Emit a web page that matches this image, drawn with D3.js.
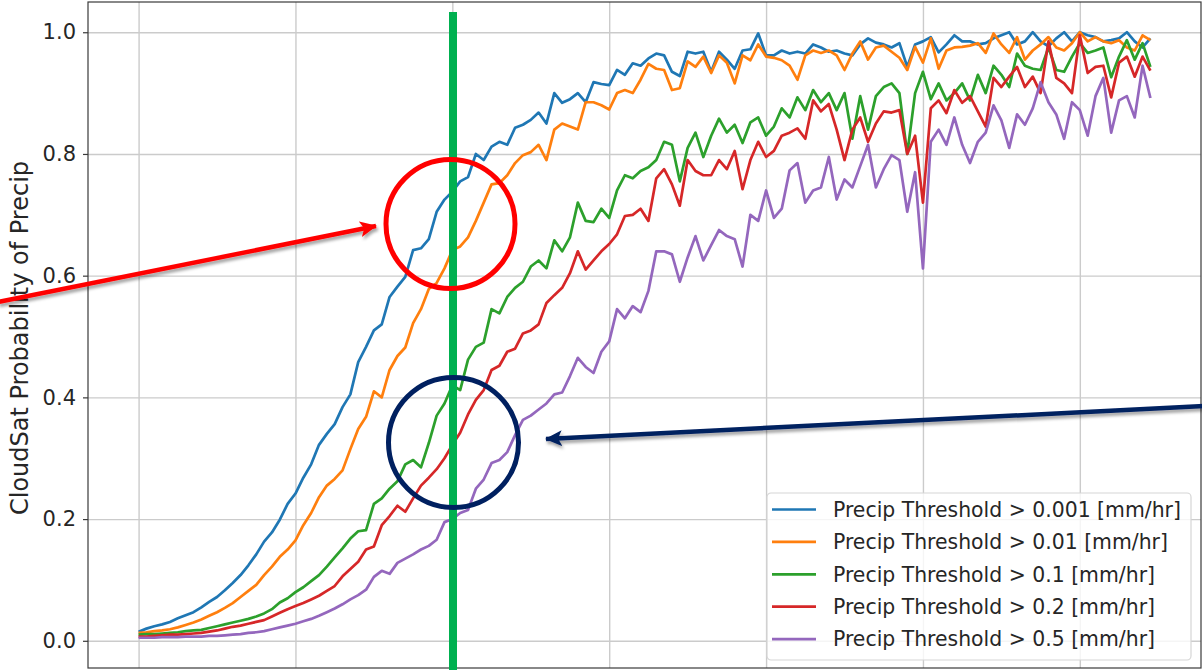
<!DOCTYPE html>
<html>
<head>
<meta charset="utf-8">
<script src="https://cdn.jsdelivr.net/npm/d3@7"></script>
<style>
  body { margin: 0; background: #fff; }
  svg { display: block; font-family: "DejaVu Sans", sans-serif; }
</style>
</head>
<body>
<svg id="chart" width="1202" height="670"></svg>
<script>
// x bins (the tick labels are cropped off in the source picture)
const bins = [
  0,1,2,3,4,5,6,7,8,9,10,11,12,13,14,15,16,17,18,19,
  20,21,22,23,24,25,26,27,28,29,30,31,32,33,34,35,36,37,38,39,
  40,41,42,43,44,45,46,47,48,49,50,51,52,53,54,55,56,57,58,59,
  60,61,62,63,64,65,66,67,68,69,70,71,72,73,74,75,76,77,78,79,
  80,81,82,83,84,85,86,87,88,89,90,91,92,93,94,95,96,97,98,99,
  100,101,102,103,104,105,106,107,108,109,110,111,112,113,114,115,116,117,118,119,
  120,121,122,123,124,125,126,127,128,129
];
const xGridTicks = [0, 20, 40, 60, 80, 100, 120];
const yTicks = [0.0, 0.2, 0.4, 0.6, 0.8, 1.0];
const yLabel = 'CloudSat Probability of Precip';

const seriesNames = [
  'Precip Threshold > 0.001 [mm/hr]',
  'Precip Threshold > 0.01 [mm/hr]',
  'Precip Threshold > 0.1 [mm/hr]',
  'Precip Threshold > 0.2 [mm/hr]',
  'Precip Threshold > 0.5 [mm/hr]'
];
const seriesColors = ['#1f77b4', '#ff7f0e', '#2ca02c', '#d62728', '#9467bd'];

// probability of precip, one value per bin
const thr0001 = [
  .015,.02,.024,.027,.031,.037,.042,.047,.055,.064,.072,.083,.095,.108,.124,.142,.163,.178,.199,.225,
  .242,.268,.29,.322,.34,.356,.384,.405,.458,.483,.51,.52,.565,.582,.598,.642,.645,.66,.705,.725,
  .738,.755,.762,.8,.79,.812,.82,.815,.843,.848,.856,.868,.85,.9,.884,.89,.9,.885,.918,.915,
  .913,.938,.93,.949,.945,.957,.965,.962,.935,.928,.968,.965,.968,.935,.968,.955,.94,.97,.972,.998,
  .962,.962,.97,.965,.968,.965,.98,.975,.968,.97,.965,.962,.98,.99,.983,.98,.975,.982,.943,.98,
  .985,.992,.967,.98,.995,.985,.985,.98,.982,.99,.995,1.0,.98,.985,1.0,.985,.977,.99,1.0,.985,
  1.0,.995,.992,.985,.987,.99,1.0,.985,.975,.99
];
const thr001 = [
  .013,.014,.016,.017,.019,.022,.026,.03,.035,.041,.047,.054,.062,.072,.082,.092,.108,.122,.138,.15,
  .165,.19,.21,.236,.255,.266,.28,.315,.348,.368,.41,.4,.445,.468,.482,.522,.545,.578,.588,.612,
  .642,.648,.663,.69,.72,.75,.752,.765,.785,.798,.803,.815,.79,.84,.85,.845,.84,.885,.885,.88,
  .873,.9,.905,.9,.922,.948,.94,.938,.905,.908,.952,.943,.96,.933,.962,.95,.916,.962,.954,.98,
  .96,.958,.954,.945,.922,.962,.97,.966,.97,.962,.938,.965,.985,.955,.975,.978,.968,.958,.938,.976,
  .95,.99,.94,.97,.975,.976,.978,.982,.966,.998,.98,.966,.992,.955,.97,.98,.992,.975,.97,.982,
  1.0,.985,.992,.985,.982,.987,.975,.97,.995,.987
];
const thr01 = [
  .01,.011,.011,.012,.013,.014,.016,.017,.018,.021,.024,.027,.03,.033,.036,.04,.045,.052,.063,.07,
  .08,.088,.098,.108,.122,.137,.152,.168,.18,.182,.225,.234,.25,.262,.29,.297,.285,.325,.37,.39,
  .42,.412,.462,.483,.49,.545,.538,.565,.58,.59,.615,.625,.612,.658,.64,.663,.72,.69,.688,.71,
  .695,.74,.765,.76,.772,.778,.79,.82,.815,.755,.81,.835,.795,.83,.858,.835,.848,.818,.852,.86,
  .83,.845,.875,.86,.893,.872,.905,.885,.9,.872,.9,.825,.895,.84,.895,.91,.916,.9,.8,.9,
  .935,.89,.916,.888,.9,.916,.888,.93,.9,.945,.93,.91,.965,.945,.94,.938,.975,.938,.935,.96,
  .982,.966,.97,.975,.926,.96,.987,.955,.982,.943
];
const thr02 = [
  .007,.007,.008,.009,.01,.01,.011,.012,.013,.015,.017,.02,.023,.025,.028,.031,.034,.04,.046,.052,
  .057,.062,.068,.074,.082,.09,.106,.118,.13,.15,.155,.19,.205,.222,.212,.234,.255,.268,.282,.3,
  .322,.342,.372,.396,.412,.445,.452,.475,.48,.505,.51,.52,.555,.568,.58,.604,.64,.61,.625,.64,
  .652,.668,.698,.7,.71,.69,.76,.775,.75,.715,.79,.772,.765,.765,.79,.775,.805,.742,.79,.82,
  .795,.805,.83,.835,.842,.825,.888,.87,.882,.84,.79,.84,.86,.82,.85,.87,.868,.872,.8,.83,
  .72,.875,.888,.867,.905,.884,.895,.87,.845,.925,.91,.927,.943,.91,.927,.9,.985,.925,.916,.9,
  .995,.933,.943,.945,.893,.95,.96,.927,.96,.937
];
const thr05 = [
  .005,.005,.005,.006,.006,.006,.007,.007,.007,.008,.008,.009,.01,.011,.013,.014,.016,.019,.022,.025,
  .028,.032,.036,.041,.047,.053,.06,.068,.075,.084,.105,.115,.11,.128,.135,.142,.15,.156,.166,.195,
  .2,.21,.215,.25,.265,.292,.297,.31,.338,.363,.37,.38,.39,.405,.408,.435,.465,.45,.44,.475,
  .492,.545,.53,.55,.54,.575,.64,.64,.635,.59,.63,.665,.625,.65,.675,.665,.66,.615,.7,.69,
  .74,.695,.71,.773,.785,.72,.74,.745,.795,.725,.758,.745,.78,.815,.745,.775,.798,.79,.705,.77,
  .612,.82,.84,.815,.86,.815,.785,.82,.835,.88,.855,.81,.865,.848,.875,.918,.885,.865,.825,.885,
  .872,.83,.895,.925,.835,.888,.895,.86,.945,.892
];
const seriesValues = [thr0001, thr001, thr01, thr02, thr05];

// annotation shapes drawn on top of the chart
const markerLineX = 453;

const svg = d3.select('#chart');
const plot = { left: 88, right: 1201, top: 2, bottom: 668 };

const x = d3.scaleLinear().domain([-6.45, 135.45]).range([plot.left, plot.right]);
const y = d3.scaleLinear().domain([-0.0447, 1.0497]).range([plot.bottom, plot.top]);

svg.append('defs').append('clipPath').attr('id', 'clip')
  .append('rect')
  .attr('x', plot.left).attr('y', plot.top)
  .attr('width', plot.right - plot.left).attr('height', plot.bottom - plot.top);

// grid lines
const grid = svg.append('g');
grid.append('g')
  .attr('transform', `translate(0,${plot.bottom})`)
  .call(d3.axisBottom(x).tickValues(xGridTicks).tickSize(-(plot.bottom - plot.top)).tickFormat(''))
  .call(g => g.select('.domain').remove());
grid.append('g')
  .attr('transform', `translate(${plot.left},0)`)
  .call(d3.axisLeft(y).tickValues(yTicks).tickSize(-(plot.right - plot.left)).tickFormat(''))
  .call(g => g.select('.domain').remove());
grid.selectAll('line').attr('stroke', '#cbcbcb').attr('stroke-width', 1.4);

// data lines
const line = d3.line()
  .x((d, i) => x(bins[i]))
  .y(d => y(d));

svg.append('g').attr('clip-path', 'url(#clip)')
  .selectAll('path')
  .data(seriesValues)
  .join('path')
  .attr('d', line)
  .attr('fill', 'none')
  .attr('stroke', (d, i) => seriesColors[i])
  .attr('stroke-width', 2.7)
  .attr('stroke-linejoin', 'round');

// frame
svg.append('rect')
  .attr('x', plot.left).attr('y', plot.top)
  .attr('width', plot.right - plot.left).attr('height', plot.bottom - plot.top)
  .attr('fill', 'none').attr('stroke', '#3a3a3a').attr('stroke-width', 1.2);

// y axis ticks + labels
const yAxis = svg.append('g')
  .attr('transform', `translate(${plot.left},0)`)
  .call(d3.axisLeft(y).tickValues(yTicks).tickFormat(d3.format('.1f')).tickSize(5).tickPadding(7));
yAxis.select('.domain').remove();
yAxis.selectAll('line').attr('stroke', '#3a3a3a').attr('stroke-width', 1.2);
yAxis.selectAll('text')
  .attr('font-family', '"DejaVu Sans", sans-serif')
  .attr('font-size', 21)
  .attr('fill', '#262626');

svg.append('text')
  .attr('transform', 'translate(28,338) rotate(-90)')
  .attr('text-anchor', 'middle')
  .attr('font-size', 24)
  .attr('fill', '#262626')
  .text(yLabel);

// legend
const legend = svg.append('g').attr('transform', 'translate(767,493)');
legend.append('rect')
  .attr('width', 424).attr('height', 167).attr('rx', 4)
  .attr('fill', '#fff').attr('fill-opacity', 0.8)
  .attr('stroke', '#d6d6d6').attr('stroke-width', 1.2);
const rows = legend.selectAll('.row')
  .data(seriesNames)
  .join('g')
  .attr('class', 'row')
  .attr('transform', (d, i) => `translate(0,${16.5 + i * 32.4})`);
rows.append('line')
  .attr('x1', 5).attr('x2', 49)
  .attr('stroke', (d, i) => seriesColors[i])
  .attr('stroke-width', 2.7);
rows.append('text')
  .attr('x', 66).attr('y', 7.3)
  .attr('font-size', 20.4)
  .attr('fill', '#262626')
  .text(d => d);

// slide annotations: vertical marker, circles and arrows
const defs = svg.select('defs');
const shadow = defs.append('filter').attr('id', 'shadow')
  .attr('x', '-5%').attr('y', '-50%').attr('width', '110%').attr('height', '200%');
shadow.append('feDropShadow')
  .attr('dx', 1.5).attr('dy', 3).attr('stdDeviation', 1.8)
  .attr('flood-color', '#000').attr('flood-opacity', 0.35);

function arrowHead(id, colour) {
  defs.append('marker')
    .attr('id', id)
    .attr('markerUnits', 'userSpaceOnUse')
    .attr('viewBox', '0 0 18 18')
    .attr('markerWidth', 18).attr('markerHeight', 18)
    .attr('refX', 16).attr('refY', 9)
    .attr('orient', 'auto')
    .append('path')
    .attr('d', 'M0,1 L17,9 L0,17 L4,9 Z')
    .attr('fill', colour);
}
arrowHead('head-red', '#ff0000');
arrowHead('head-navy', '#002060');

svg.append('line')
  .attr('x1', markerLineX).attr('x2', markerLineX)
  .attr('y1', 12).attr('y2', 670)
  .attr('stroke', '#00b050').attr('stroke-width', 8);

svg.append('circle')
  .attr('cx', 450.5).attr('cy', 224).attr('r', 64.5)
  .attr('fill', 'none').attr('stroke', '#ff0000').attr('stroke-width', 5);
svg.append('circle')
  .attr('cx', 453.5).attr('cy', 442.5).attr('r', 65)
  .attr('fill', 'none').attr('stroke', '#002060').attr('stroke-width', 5);

svg.append('line')
  .attr('x1', -2).attr('y1', 302).attr('x2', 376).attr('y2', 226)
  .attr('stroke', '#ff0000').attr('stroke-width', 4.5)
  .attr('marker-end', 'url(#head-red)')
  .attr('filter', 'url(#shadow)');
svg.append('line')
  .attr('x1', 1204).attr('y1', 406).attr('x2', 546).attr('y2', 439)
  .attr('stroke', '#002060').attr('stroke-width', 4.5)
  .attr('marker-end', 'url(#head-navy)')
  .attr('filter', 'url(#shadow)');
</script>
</body>
</html>
